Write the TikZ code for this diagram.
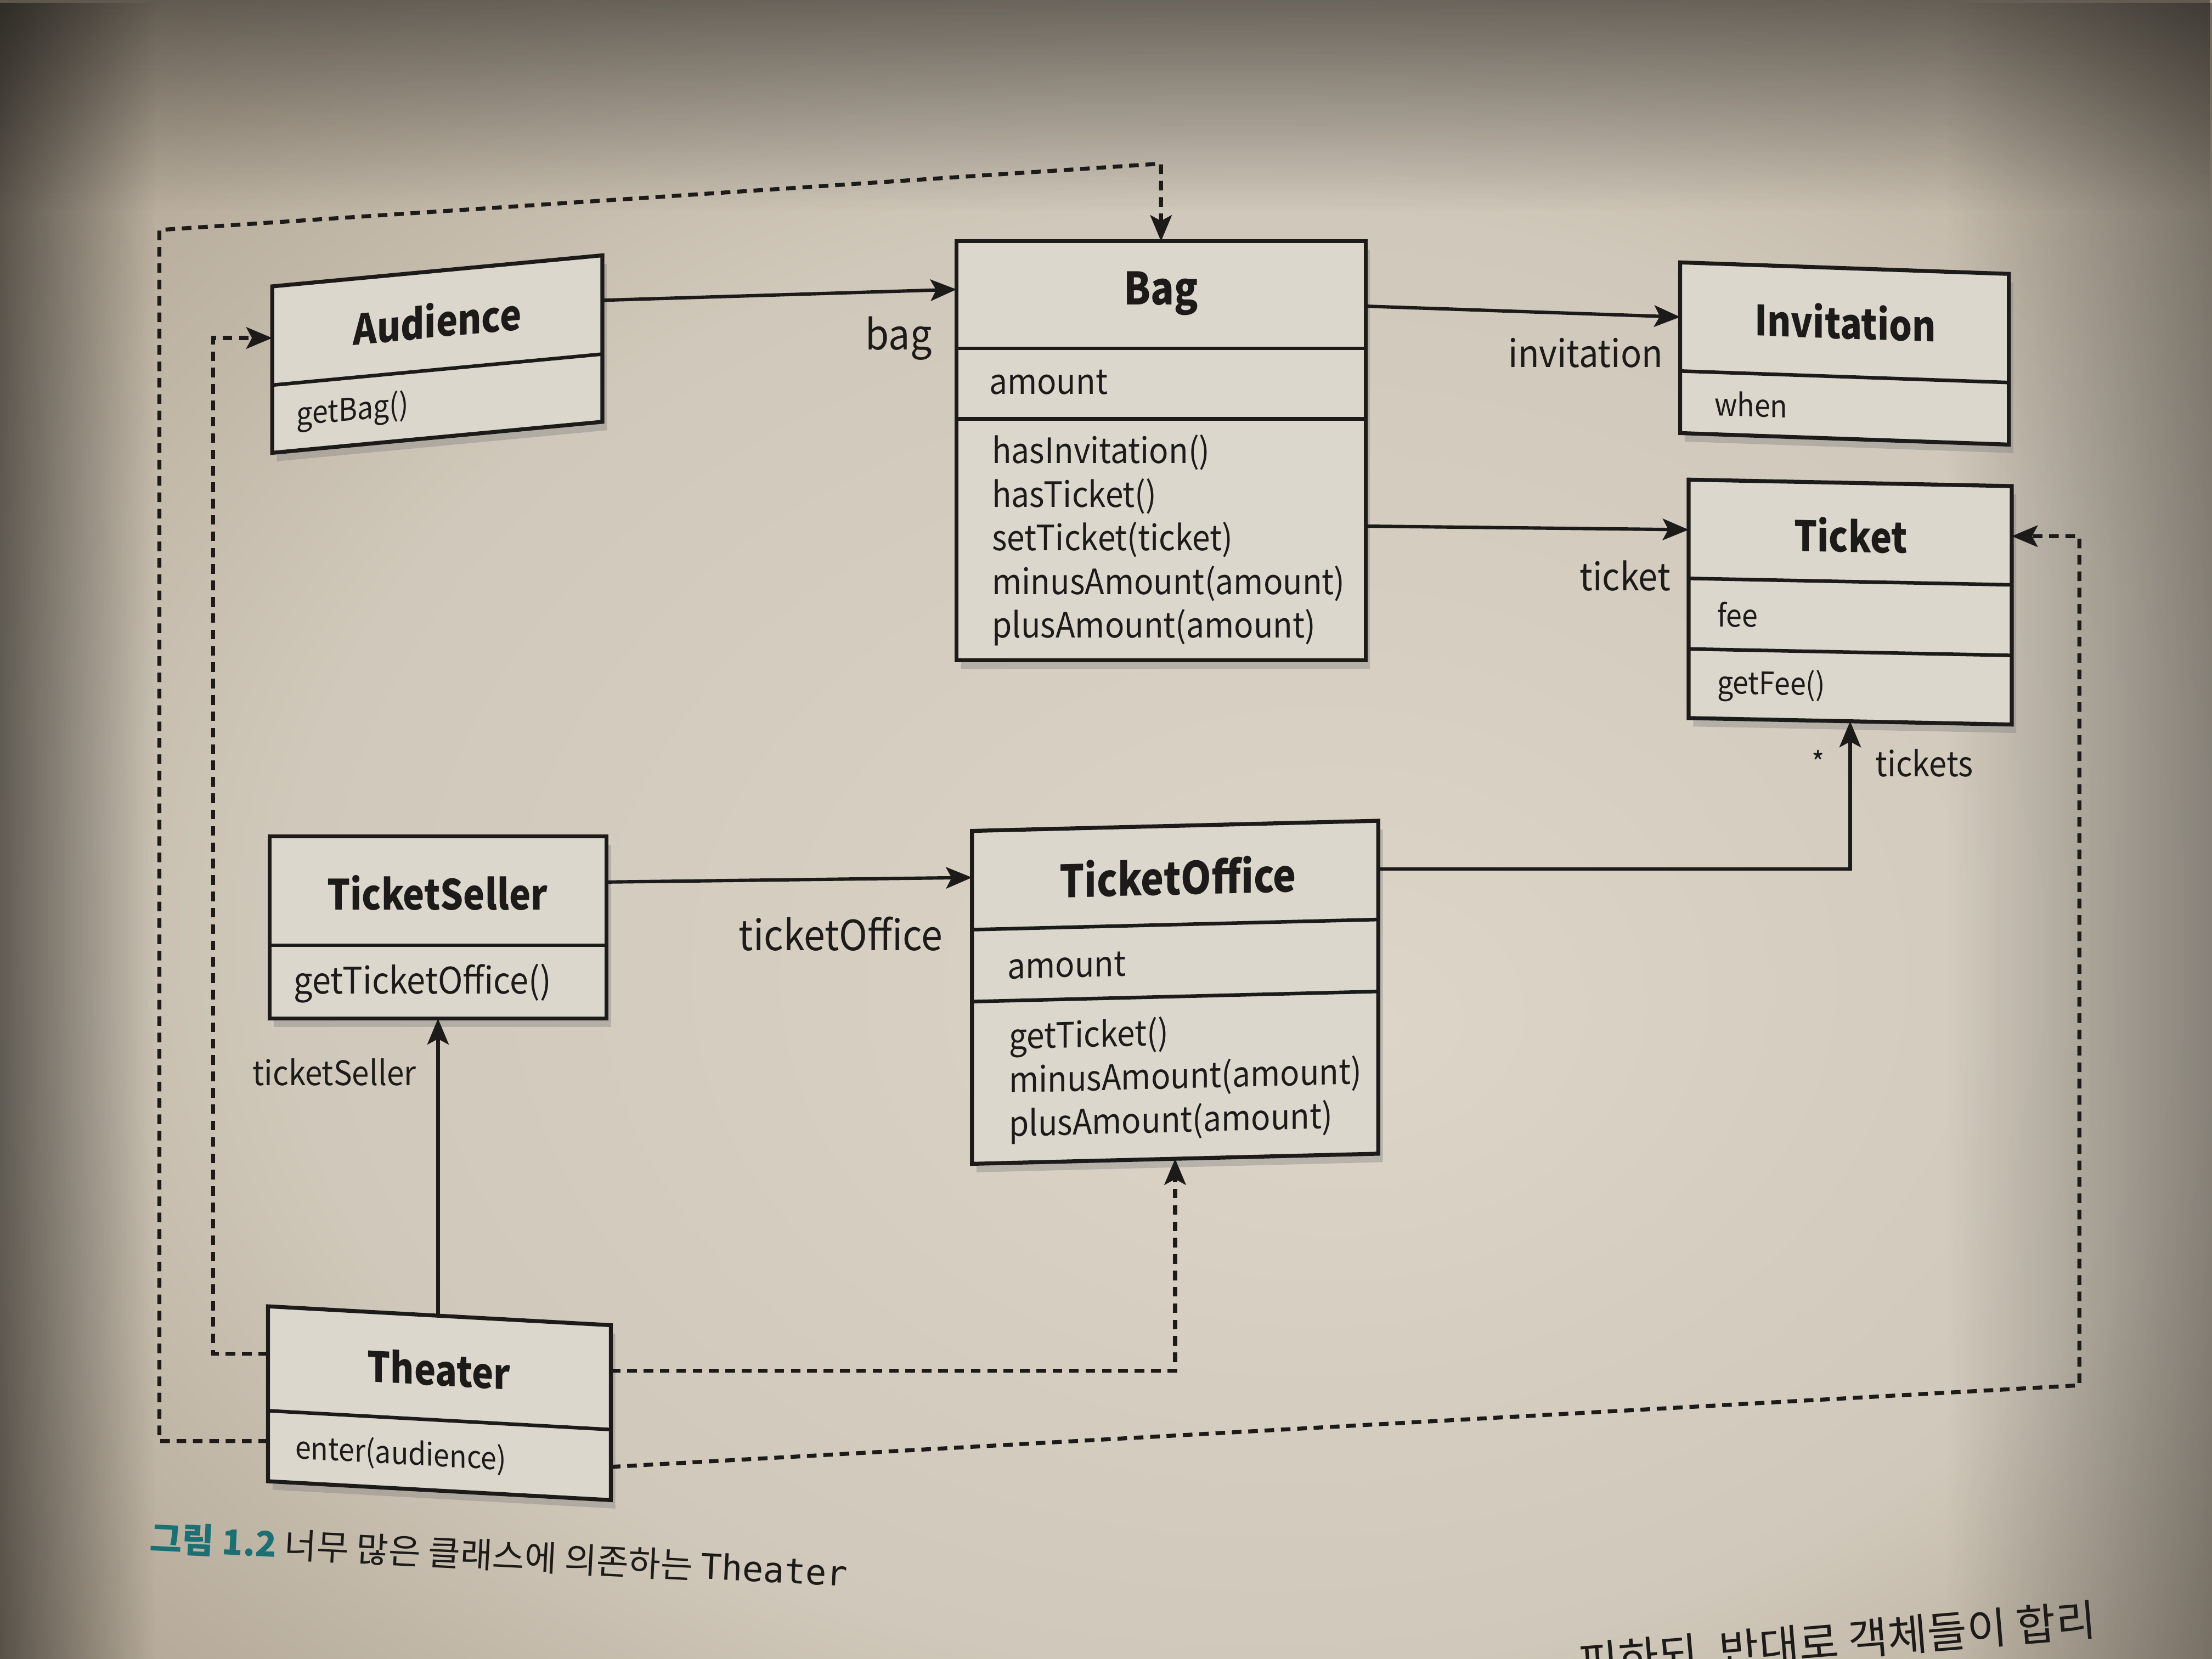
\documentclass[tikz,border=0pt]{standalone}
\usepackage{fontspec}
\setmainfont{Noto Sans CJK KR}
\newfontfamily\df[FakeStretch=0.92]{Noto Sans CJK KR}
\newfontfamily\tf[FakeStretch=0.87]{Noto Sans CJK KR}
\newfontfamily\monof{DejaVu Sans Mono}
\usetikzlibrary{arrows.meta,shadows,calc,fadings}
\definecolor{paperC}{RGB}{220,213,200}
\definecolor{paperM}{RGB}{208,200,186}
\definecolor{paperE}{RGB}{170,157,138}
\definecolor{paperF}{RGB}{115,101,83}
\definecolor{boxfill}{RGB}{220,215,205}
\definecolor{ink}{RGB}{28,27,26}
\definecolor{capteal}{RGB}{28,112,115}
\pgfdeclareradialshading{paper}{\pgfpoint{6bp}{-6bp}}{color(0bp)=(paperC); color(22bp)=(paperM); color(38bp)=(paperE); color(50bp)=(paperF)}
\tikzfading[name=fadedown, top color=transparent!0, bottom color=transparent!100]
\tikzfading[name=faderight, left color=transparent!0, right color=transparent!100]
\tikzfading[name=fadeleft, left color=transparent!100, right color=transparent!0]
\begin{document}
\begin{tikzpicture}[x=0.025cm, y=-0.025cm,
  umlbox/.style 2 args={draw=ink, line width=2pt, fill=boxfill,
    minimum width=#1*0.025cm, minimum height=#2*0.025cm, anchor=north west,
    inner sep=0pt, outer sep=0pt,
    drop shadow={shadow xshift=0.08cm, shadow yshift=-0.15cm, opacity=0.38}},
  div/.style={draw=ink, line width=1.8pt},
  ctitle/.style={font=\tf\bfseries\fontsize{21}{25}\selectfont, text=ink, inner sep=0pt},
  ctitleB/.style={font=\tf\bfseries\fontsize{22.5}{27}\selectfont, text=ink, inner sep=0pt},
  cmem/.style={font=\df\fontsize{15.6}{19}\selectfont, text=ink, anchor=west, inner sep=0pt, align=left},
  cmemM/.style={font=\df\fontsize{18.4}{22}\selectfont, text=ink, anchor=west, inner sep=0pt, align=left},
  cmemL/.style={font=\df\fontsize{17.6}{22}\selectfont, text=ink, anchor=west, inner sep=0pt, align=left},
  lbl/.style={font=\df\fontsize{19}{23}\selectfont, text=ink, inner sep=0pt},
  conn/.style={draw=ink, line width=1.7pt, -{Stealth[length=0.46cm,width=0.38cm,inset=0.1cm]}},
  dep/.style={conn, line width=2pt, dash pattern=on 0.17cm off 0.12cm}]
\useasboundingbox (0,0) rectangle (1568,1176);
\shade[shading=paper] (0,0) rectangle (1568,1176);
\fill[black, opacity=0.45, path fading=fadedown] (0,0) rectangle (1568,150);
\fill[black, opacity=0.5, path fading=faderight] (0,0) rectangle (110,1176);
\fill[black, opacity=0.35, path fading=fadeleft] (1380,0) rectangle (1568,1176);

% Audience
\begin{scope}[shift={(193,203)}, yslant=0.094, transform shape]
\node[umlbox={234}{118}] (aud) at (0,0) {};
\draw[div] (0,70) -- (234,70);
\node[ctitle] (audT) at (117,35) {Audience};
\node[cmem] (audM) at (17,94) {getBag()};
\end{scope}

% Bag
\begin{scope}[shift={(678,171)}, transform shape]
\node[umlbox={290}{297}] (bag) at (0,0) {};
\draw[div] (0,76) -- (290,76);
\draw[div] (0,126) -- (290,126);
\node[ctitleB] (bagT) at (145,37) {Bag};
\node[cmemL] (bagA) at (23,100) {amount};
\node[cmemL] (bagM) at (25,212) {hasInvitation()\\hasTicket()\\setTicket(ticket)\\minusAmount(amount)\\plusAmount(amount)};
\end{scope}

% Invitation
\begin{scope}[shift={(1191,186)}, yslant=-0.035, transform shape]
\node[umlbox={233}{121}] (inv) at (0,0) {};
\draw[div] (0,77) -- (233,77);
\node[ctitle] (invT) at (117,38) {Invitation};
\node[cmem] (invA) at (24,99) {when};
\end{scope}

% Ticket
\begin{scope}[shift={(1197,340)}, yslant=-0.02, transform shape]
\node[umlbox={229}{169}] (tk) at (0,0) {};
\draw[div] (0,70) -- (229,70);
\draw[div] (0,120) -- (229,120);
\node[ctitle] (tkT) at (115,37) {Ticket};
\node[cmem] (tkA) at (20,95) {fee};
\node[cmem] (tkM) at (20,145) {getFee()};
\end{scope}

% TicketSeller
\begin{scope}[shift={(191,593)}, transform shape]
\node[umlbox={239}{129}] (ts) at (0,0) {};
\draw[div] (0,77) -- (239,77);
\node[ctitle] (tsT) at (119,40) {TicketSeller};
\node[cmemM] (tsM) at (17,104) {getTicketOffice()};
\end{scope}

% TicketOffice
\begin{scope}[shift={(689,589)}, yslant=0.025, transform shape]
\node[umlbox={288}{236}] (to) at (0,0) {};
\draw[div] (0,70) -- (288,70);
\draw[div] (0,121) -- (288,121);
\node[ctitleB] (toT) at (146,36) {TicketOffice};
\node[cmemL] (toA) at (25,97) {amount};
\node[cmemL] (toM) at (26,179) {getTicket()\\minusAmount(amount)\\plusAmount(amount)};
\end{scope}

% Theater
\begin{scope}[shift={(190,926)}, yslant=-0.055, transform shape]
\node[umlbox={243}{124}] (th) at (0,0) {};
\draw[div] (0,74) -- (243,74);
\node[ctitle] (thT) at (121,38) {Theater};
\node[cmem] (thM) at (19,100) {enter(audience)};
\end{scope}

% associations
\draw[conn] ($(aud.north east)!0.27!(aud.south east)$) -- ($(bag.north west)!0.115!(bag.south west)$);
\node[lbl, font=\df\fontsize{21}{25}\selectfont] (lbag) at (637,240) {bag};
\draw[conn] ($(bag.north east)!0.155!(bag.south east)$) -- ($(inv.north west)!0.32!(inv.south west)$);
\node[lbl] (linv) at (1124,250) {invitation};
\draw[conn] ($(bag.north east)!0.68!(bag.south east)$) -- ($(tk.north west)!0.21!(tk.south west)$);
\node[lbl] (ltk) at (1152,408) {ticket};
\draw[conn] ($(ts.north east)!0.25!(ts.south east)$) -- ($(to.north west)!0.14!(to.south west)$);
\node[lbl, font=\df\fontsize{21}{25}\selectfont] (lto) at (596,662) {ticketOffice};
\draw[conn] ($(to.north east)!0.145!(to.south east)$) -| (tk.south);
\node[lbl, font=\df\fontsize{15}{17}\selectfont] (lstar) at (1289,540) {*};
\node[lbl, font=\df\fontsize{17.4}{21}\selectfont] (ltks) at (1364,541) {tickets};
\draw[conn] (ts.south |- th.north) -- (ts.south);
\node[lbl, font=\df\fontsize{17}{21}\selectfont] (lts) at (237,760) {ticketSeller};

% dependencies
\coordinate (thR1) at ($(th.north east)!0.26!(th.south east)$);
\draw[dep] (thR1) -| (to.south);
\coordinate (thL1) at ($(th.north west)!0.27!(th.south west)$);
\coordinate (audL) at ($(aud.north west)!0.31!(aud.south west)$);
\coordinate (cA) at (151,0);
\draw[dep] (thL1) -- (thL1 -| cA) |- (audL);
\coordinate (thL2) at ($(th.north west)!0.77!(th.south west)$);
\coordinate (cB) at (113,163);
\coordinate (cC) at (823,116);
\draw[dep] (thL2) -- (thL2 -| cB) -- (cB) -- (cC -| bag.north) -- (bag.north);
\coordinate (thR2) at ($(th.north east)!0.81!(th.south east)$);
\coordinate (cD) at (1474,982);
\coordinate (tkR) at ($(tk.north east)!0.21!(tk.south east)$);
\draw[dep] (thR2) -- (cD) -- (cD |- tkR) -- (tkR);

% caption
\node[anchor=west, rotate=-2.9, inner sep=0pt, text=ink, font=\fontsize{17.6}{21}\selectfont] (cap) at (106,1090)
  {\textcolor{capteal}{\bfseries 그림 1.2}\ 너무 많은 클래스에 의존하는 {\monof Theater}};
\node[anchor=base west, rotate=4.8, inner sep=0pt, text=ink, font=\fontsize{21.8}{26}\selectfont] (btxt) at (1120,1190)
  {피하되, 반대로 객체들이 합리};
\end{tikzpicture}
\end{document}
